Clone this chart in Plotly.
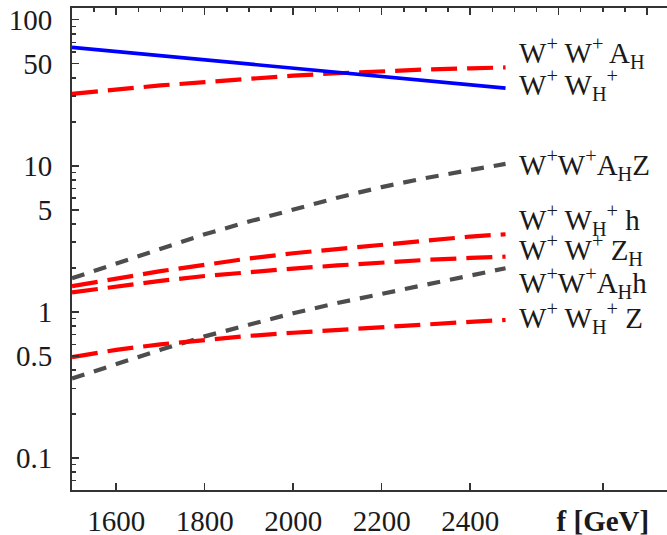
import math
import plotly.graph_objects as go

# ---- data ----
f_gev = [1500, 1600, 1700, 1800, 1900, 2000, 2100, 2200, 2300, 2400, 2480]

ww_wh = [64.7, 60.6, 56.8, 53.2, 49.8, 46.6, 43.6, 40.9, 38.3, 35.8, 34.0]            # W+ WH+  (blue solid)
ww_ah = [31.1, 33.3, 35.5, 37.4, 39.5, 41.4, 43.0, 44.5, 45.6, 46.5, 47.1]            # W+ W+ AH (red)
ww_ahz = [1.70, 2.15, 2.72, 3.40, 4.15, 5.05, 6.05, 7.15, 8.25, 9.35, 10.3]           # W+W+AHZ (gray)
ww_wh_h = [1.50, 1.70, 1.90, 2.10, 2.32, 2.52, 2.70, 2.90, 3.10, 3.28, 3.40]          # W+ WH+ h (red)
ww_zh = [1.36, 1.50, 1.63, 1.76, 1.88, 1.98, 2.08, 2.18, 2.27, 2.34, 2.39]            # W+ W+ ZH (red)
ww_ahh = [0.35, 0.44, 0.55, 0.68, 0.82, 0.98, 1.15, 1.33, 1.53, 1.76, 1.99]           # W+W+AHh (gray)
ww_wh_z = [0.49, 0.55, 0.60, 0.645, 0.685, 0.72, 0.755, 0.79, 0.82, 0.855, 0.88]      # W+ WH+ Z (red)

series_labels = [
    "W<sup>+</sup> W<sup>+</sup> A<sub>H</sub>",
    "W<sup>+</sup> W<sub>H</sub><sup>+</sup>",
    "W<sup>+</sup>W<sup>+</sup>A<sub>H</sub>Z",
    "W<sup>+</sup> W<sub>H</sub><sup>+</sup> h",
    "W<sup>+</sup> W<sup>+</sup> Z<sub>H</sub>",
    "W<sup>+</sup>W<sup>+</sup>A<sub>H</sub>h",
    "W<sup>+</sup> W<sub>H</sub><sup>+</sup> Z",
]

y_tick_vals = [0.1, 0.5, 1, 5, 10, 50, 100]
y_tick_text = ["0.1", "0.5", "1", "5", "10", "50", "100"]
x_tick_vals = [1600, 1800, 2000, 2200, 2400, 2700]
x_tick_text = ["1600", "1800", "2000", "2200", "2400", "<b>f [GeV]</b>"]

# ---- styles ----
RED = "#ff0000"
GRAY = "#4d4d4d"
BLUE = "#0000ff"
red_dash = "26px,10px"
gray_dash = "13px,10px"
FONT = "Liberation Serif"
TXT = "#1a1a1a"

fig = go.Figure()

def add(y, color, dash, width=4.2):
    fig.add_trace(go.Scatter(x=f_gev, y=y, mode="lines",
                             line=dict(color=color, dash=dash, width=width),
                             showlegend=False, hoverinfo="skip"))

add(ww_ahh, GRAY, gray_dash)
add(ww_ahz, GRAY, gray_dash)
add(ww_wh_z, RED, red_dash)
add(ww_zh, RED, red_dash)
add(ww_wh_h, RED, red_dash)
add(ww_ah, RED, red_dash)
add(ww_wh, BLUE, "solid", 3.6)

XR = [1500, 2845]
YR = [-1.219, 2.08]

# invisible trace for the top frame axis
fig.add_trace(go.Scatter(x=XR, y=[1, 1], xaxis="x2", mode="lines",
                         line=dict(width=0), opacity=0, showlegend=False, hoverinfo="skip"))

# minor tick values
y_minor = []
for dec in [0.01, 0.1, 1, 10]:
    for k in [2, 3, 4, 6, 7, 8, 9]:
        y_minor.append(round(k * dec, 4))
y_minor = [v for v in y_minor if 0.06 <= v <= 118]
x_minor_top = [1500 + 50 * i for i in range(27) if (1500 + 50 * i) % 200 != 0]

fig.update_layout(
    width=667, height=535,
    margin=dict(l=72, r=0, t=8, b=45, autoexpand=False),
    plot_bgcolor="white", paper_bgcolor="white",
    font=dict(family=FONT, size=29, color=TXT),
    xaxis=dict(range=XR, showgrid=False, zeroline=False, showline=True,
               automargin=False, ticklabeloverflow="allow",
               linecolor="#333", linewidth=2, ticks="inside", ticklen=7,
               tickwidth=1.5, tickcolor="#333", tickvals=x_tick_vals,
               ticktext=x_tick_text, tickfont=dict(family=FONT, size=29, color=TXT),
               ticklabelstandoff=4),
    xaxis2=dict(range=XR, overlaying="x", side="top", showgrid=False,
                automargin=False,
                zeroline=False, showline=True, linecolor="#333", linewidth=2,
                ticks="inside", ticklen=7, tickwidth=1.5, tickcolor="#333",
                tickvals=[1600, 1800, 2000, 2200, 2400, 2600, 2800],
                showticklabels=False,
                minor=dict(ticks="inside", ticklen=4, tickwidth=1.5, showgrid=False,
                           tickcolor="#333", tickvals=x_minor_top)),
    yaxis=dict(type="log", range=YR, showgrid=False, zeroline=False,
               automargin=False, ticklabeloverflow="allow",
               showline=True, linecolor="#333", linewidth=2, ticks="inside",
               ticklen=7, tickwidth=1.5, tickcolor="#333", tickvals=y_tick_vals,
               ticktext=y_tick_text, tickfont=dict(family=FONT, size=29, color=TXT),
               ticklabelstandoff=12,
               minor=dict(ticks="inside", ticklen=4, tickwidth=1.5, showgrid=False,
                          tickcolor="#333", tickvals=y_minor)),
)

label_y = [59.4, 35.9, 10.2, 4.27, 2.66, 1.58, 0.91]
for txt, yv in zip(series_labels, label_y):
    fig.add_annotation(x=2505, y=math.log10(yv), xref="x", yref="y",
                       text=txt, showarrow=False, xanchor="left",
                       yanchor="middle", font=dict(family=FONT, size=29, color=TXT))

# remove the page's default body margin so the figure fills the window exactly
fig.write_html("out.html",
               config={"displayModeBar": False, "staticPlot": True},
               post_script="document.body.style.margin='0';document.body.style.overflow='hidden';")
